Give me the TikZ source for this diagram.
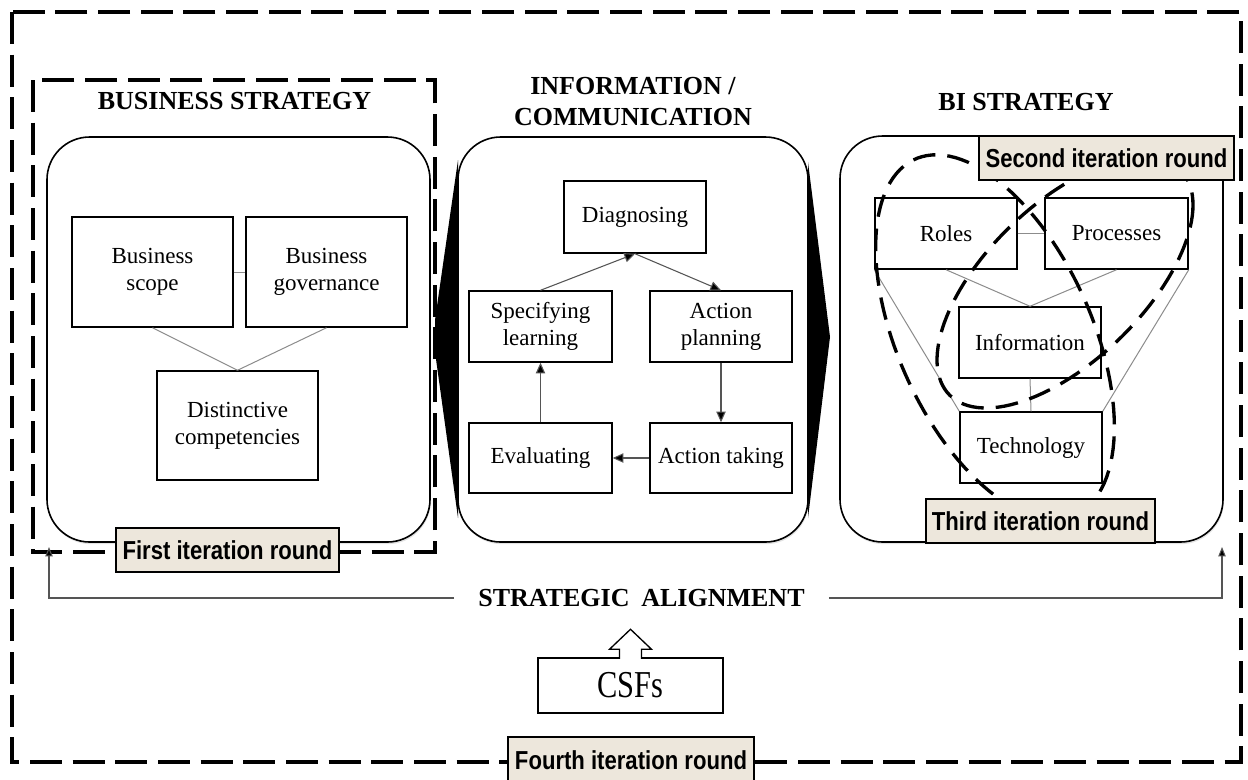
\documentclass[tikz,border=0pt]{standalone}
\usepackage{fontspec}
\usepackage{graphicx}
\setmainfont{Liberation Serif}
\newfontfamily\labelfont[FakeStretch=0.85]{Liberation Sans}
\usetikzlibrary{arrows.meta,calc,shadows}

\definecolor{labelbg}{HTML}{EDE7DC}
\definecolor{linkgray}{HTML}{8C8C8C}
\definecolor{arrowgray}{HTML}{555555}

\begin{document}
\begin{tikzpicture}[x=0.75pt,y=-0.75pt,
  sized/.style 2 args={minimum width=#1*0.75pt, minimum height=#2*0.75pt},
  itembox/.style={draw, line width=1.1pt, inner sep=0pt, fill=white, align=center,
    font=\fontsize{17.25pt}{20.25pt}\selectfont},
  panelbox/.style={draw, line width=1.2pt, inner sep=0pt, fill=white, rounded corners=32pt,
    drop shadow={shadow xshift=0.6pt, shadow yshift=-1.6pt, opacity=0.22}},
  headline/.style={font=\fontsize{19.5pt}{23.25pt}\selectfont\bfseries, align=center, inner sep=0pt},
  iterlabel/.style={draw, line width=1pt, fill=labelbg, inner sep=0pt,
    font=\labelfont\bfseries\fontsize{19.5pt}{22pt}\selectfont},
  dashframe/.style={line width=2.5pt, dash pattern=on 24pt off 8pt},
  ringline/.style={line width=2.5pt, dash pattern=on 17pt off 9pt},
  linkline/.style={draw=linkgray, line width=0.75pt},
  flowarrow/.style={draw=arrowgray, line width=0.8pt, -{Triangle[length=8pt,width=7pt,fill=black]}},
  saline/.style={draw=arrowgray, line width=0.8pt, -{Triangle[length=7pt,width=5.5pt,fill=black]}},
]
\useasboundingbox (0,0) rectangle (1248,779);

% outer frame and business strategy frame
\draw[dashframe] (12,12) rectangle (1241,762);
\draw[dashframe] (33,80) rectangle (435,552);

% wedges on both sides of the middle panel
\fill (458,160) -- (435,320) -- (435,352) -- (458,518) -- cycle;
\fill (808,162) -- (830,337) -- (808,518) -- cycle;

% panels
\node[panelbox, sized={383}{405}] (bsp) at (238.5,339.5) {};
\node[panelbox, sized={350}{405}] (icp) at (633,339.5) {};
\node[panelbox, sized={383}{406}] (bip) at (1031.5,339) {};

% titles
\node[headline] (bstitle) at (234.5,101) {BUSINESS STRATEGY};
\node[headline] (ictitle) at (633,102) {INFORMATION /\\COMMUNICATION};
\node[headline] (bititle) at (1026,102) {BI STRATEGY};

% business strategy
\node[itembox, sized={161}{110}] (scope) at (152.5,272) {Business\\scope};
\node[itembox, sized={161}{110}] (gov) at (326.5,272) {Business\\governance};
\node[itembox, sized={161}{109}] (dist) at (237.5,425.5) {Distinctive\\competencies};
\draw[linkline] (scope.east) -- (gov.west);
\draw[linkline] (scope.south) -- (dist.north);
\draw[linkline] (gov.south) -- (dist.north);

% information / communication cycle
\node[itembox, sized={142}{72}] (diag) at (635,217) {Diagnosing};
\node[itembox, sized={143}{71}] (spec) at (540.5,326.5) {Specifying\\learning};
\node[itembox, sized={142}{71}] (plan) at (721,326.5) {Action\\planning};
\node[itembox, sized={143}{70}] (eval) at (540.5,458) {Evaluating};
\node[itembox, sized={142}{70}] (take) at (721,458) {Action taking};
\draw[flowarrow] (spec.north) -- (diag.south);
\draw[flowarrow] (diag.south) -- (plan.north);
\draw[flowarrow] (plan.south) -- (take.north);
\draw[flowarrow] (take.west) -- (eval.east);
\draw[flowarrow] (eval.north) -- (spec.south);

% BI strategy
\node[itembox, sized={142}{71}] (roles) at (946,233.5) {Roles};
\node[itembox, sized={143}{71}] (proc) at (1116.5,233.5) {Processes};
\node[itembox, sized={142}{71}] (info) at (1030,342.5) {Information};
\node[itembox, sized={142}{71}] (tech) at (1031,447.5) {Technology};
\draw[linkline] (roles.east) -- (proc.west);
\draw[linkline] (roles.south) -- (info.north);
\draw[linkline] (proc.south) -- (info.north);
\draw[linkline] (info.south) -- (tech.north);
\draw[linkline] (roles.south west) -- (tech.north west);
\draw[linkline] (proc.south east) -- (tech.north east);

% iteration rings
\draw[ringline] plot[domain=0:360, samples=120, variable=\t]
  ({995+80.1*cos(\t)+88.5*sin(\t)}, {337+177.8*cos(\t)-39.9*sin(\t)}) -- cycle;
\draw[ringline] plot[domain=0:360, samples=120, variable=\t]
  ({1065+128*cos(\t)}, {282.5-77.5*cos(\t)+98.7*sin(\t)}) -- cycle;

% iteration labels
\node[iterlabel, sized={223}{44}] (lab1) at (227.5,550) {First iteration round};
\node[iterlabel, sized={255}{44}] (lab2) at (1106.5,158) {Second iteration round};
\node[iterlabel, sized={229}{44}] (lab3) at (1040.5,521) {Third iteration round};
\node[iterlabel, sized={246}{46}] (lab4) at (631,760) {Fourth iteration round};

% strategic alignment
\node[headline, inner xsep=18pt] (sa) at (641.5,598) {STRATEGIC\hspace{4pt} ALIGNMENT};
\coordinate (salL) at (49,547);
\coordinate (salR) at (1222,547);
\draw[saline] (sa.west) -| (salL);
\draw[saline] (sa.east) -| (salR);

% critical success factors
\node[itembox, sized={185}{55}, font=\fontsize{28.5pt}{30pt}\selectfont] (csf) at (630.5,685.5) {\scalebox{0.8}[1]{CSFs}};
\draw[fill=white, line width=1pt] ($(csf.north)+(-11,1.5)$) -- ++(0,-9.5) -- ++(-10,0)
  -- ($(csf.north)+(0,-28)$) -- ($(csf.north)+(21,-8)$) -- ++(-10,0) -- ($(csf.north)+(11,1.5)$);
\end{tikzpicture}
\end{document}
